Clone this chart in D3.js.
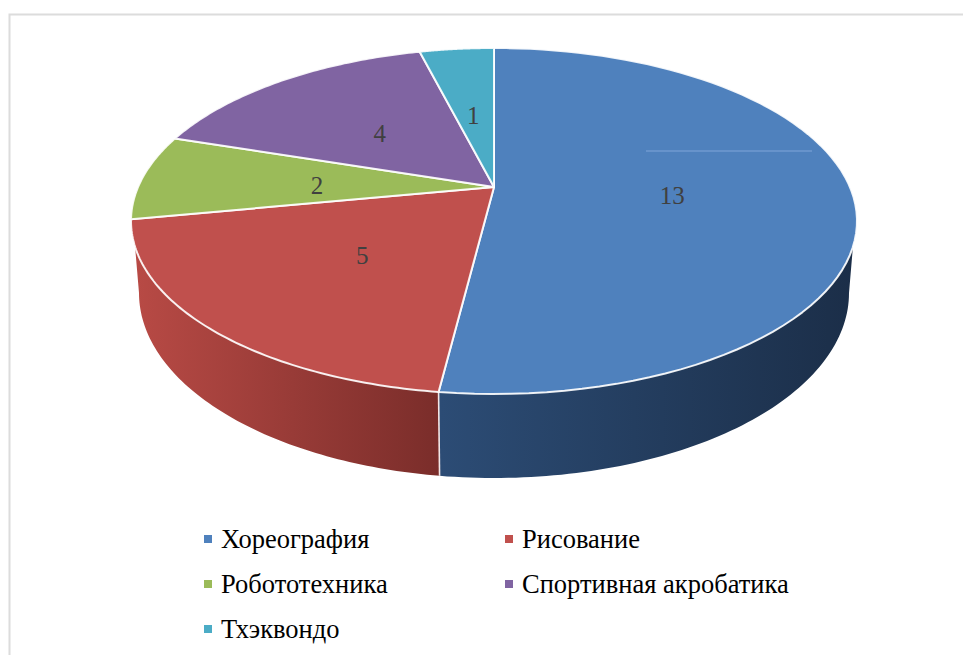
<!DOCTYPE html>
<html><head><meta charset="utf-8">
<script src="https://cdn.jsdelivr.net/npm/d3@7/dist/d3.min.js"></script>
<style>html,body{margin:0;padding:0;background:#fff}svg{display:block}</style>
</head><body><svg id="c" width="963" height="655"></svg>
<script>
const categories = ["Хореография","Рисование","Робототехника","Спортивная акробатика","Тхэквондо"];
const values = [13,5,2,4,1];
const colors = ["#4f81bd","#c0504d","#9bbb59","#8064a2","#4bacc6"];
const sideStops = [
  [["#2c4c75","#1b2e48"]],
  [["#b84a45","#7a2d2a"]]
];

const svg = d3.select("#c");
const font = "'Liberation Serif','Times New Roman',serif";

// frame
svg.append("path").attr("d","M9.5,655V14.5H963").attr("fill","none").attr("stroke","#dcdcdc").attr("stroke-width",2);

// ellipse of the top face and of the base
const top_ = {cx:494, cy:221, rx:363, ry:173};
const base = {cx:494, cy:293, rx:355, ry:185};
const tilt = 0.197;  // perspective displacement of the pie's apex

function project(r, a){
  const u = r*Math.sin(a), v = r*Math.cos(a), d = 1+tilt*v;
  return [top_.cx + top_.rx*u*Math.sqrt(1-tilt*tilt)/d,
          top_.cy - top_.ry*(v+tilt)/d];
}
const pie = d3.pie().sort(null).value(d=>d)(values);
const line = d3.line();
const ell = (e,phi)=>[e.cx+e.rx*Math.cos(phi), e.cy+e.ry*Math.sin(phi)];
const seq = (a,b,n=80)=>d3.range(n+1).map(i=>a+(b-a)*i/n);
const phiOf = a=>{const p=project(1,a);return Math.atan2((p[1]-top_.cy)/top_.ry,(p[0]-top_.cx)/top_.rx);};

// side walls
const defs = svg.append("defs");
const split = phiOf(pie[0].endAngle);
const silR = 0.15, silL = Math.PI-0.15;
const baseSplit = Math.acos((project(1,pie[0].endAngle)[0]+1-base.cx)/base.rx);
const walls = [
  {id:"gb", stops:sideStops[0][0], x1:440, x2:856,
   pts:[...seq(silR,split).map(p=>ell(top_,p)), ...seq(baseSplit,0).map(p=>ell(base,p))]},
  {id:"gr", stops:sideStops[1][0], x1:135, x2:440,
   pts:[...seq(split,silL).map(p=>ell(top_,p)), ...seq(Math.PI,baseSplit).map(p=>ell(base,p))]}
];
walls.forEach(w=>{
  const g = defs.append("linearGradient").attr("id",w.id).attr("gradientUnits","userSpaceOnUse")
    .attr("x1",w.x1).attr("x2",w.x2).attr("y1",0).attr("y2",0);
  g.append("stop").attr("offset",0).attr("stop-color",w.stops[0]);
  g.append("stop").attr("offset",1).attr("stop-color",w.stops[1]);
  svg.append("path").attr("d",line(w.pts)+"Z").attr("fill",`url(#${w.id})`);
});
// seam between the two walls
const sp = ell(top_,split), bp = ell(base,baseSplit);
svg.append("line").attr("x1",sp[0]).attr("y1",sp[1]).attr("x2",bp[0]).attr("y2",bp[1])
  .attr("stroke","#f2e6e6").attr("stroke-width",1.6);

// top-face slices
svg.append("g").selectAll("path").data(pie).join("path")
  .attr("d",d=>{
    const pts=[project(0,0),...seq(d.startAngle,d.endAngle).map(a=>project(1,a))];
    return line(pts)+"Z";
  })
  .attr("fill",(d,i)=>colors[i])
  .attr("stroke","#ffffff").attr("stroke-width",2).attr("stroke-opacity",0.9).attr("stroke-linejoin","round");

// faint scan artefact on the blue slice
svg.append("line").attr("x1",646).attr("x2",812).attr("y1",151).attr("y2",151)
  .attr("stroke","#6f9ad0").attr("stroke-width",1.5);

// value labels
svg.append("g").selectAll("text").data(pie).join("text")
  .attr("transform",d=>{const p=project(0.5,(d.startAngle+d.endAngle)/2);return `translate(${p[0]-0.5},${p[1]+12})`;})
  .attr("text-anchor","middle").attr("font-family",font).attr("font-size",25).attr("fill","#404040")
  .text(d=>d.value);

// legend
const col = d3.scaleOrdinal().domain([0,1]).range([204,505]);
const row = d3.scalePoint().domain([0,1,2]).range([539,629]);
const lg = svg.append("g").selectAll("g").data(categories).join("g")
  .attr("transform",(d,i)=>`translate(${col(i%2)},${row(Math.floor(i/2))})`);
lg.append("rect").attr("x",0).attr("y",-4).attr("width",8).attr("height",8).attr("fill",(d,i)=>colors[i]);
lg.append("text").attr("x",17).attr("y",9).attr("font-family",font).attr("font-size",26.5).attr("fill","#000").text(d=>d);
</script></body></html>
